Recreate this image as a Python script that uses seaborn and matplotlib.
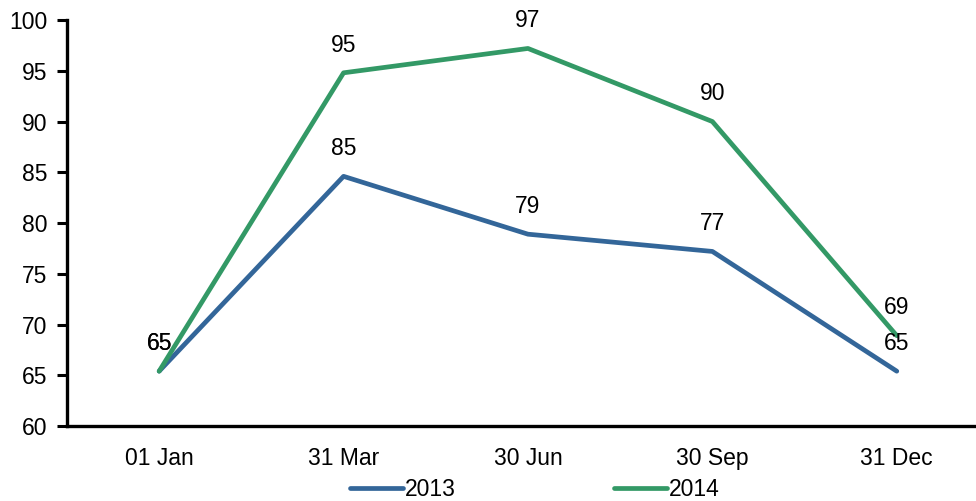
import matplotlib
matplotlib.use("Agg")
import matplotlib.pyplot as plt
import seaborn as sns
import pandas as pd

# Quarter-end dates and index values per year
categories = ["01 Jan", "31 Mar", "30 Jun", "30 Sep", "31 Dec"]
values_2013 = [65.4, 84.6, 78.9, 77.2, 65.4]
values_2014 = [65.4, 94.8, 97.2, 90.0, 68.9]
series_names = ["2013", "2014"]
y_ticks = [60, 65, 70, 75, 80, 85, 90, 95, 100]

colors = {"2013": "#336699", "2014": "#339966"}
FS = 16.5

sns.set_theme(style="white")
plt.rcParams["font.family"] = ["Liberation Sans", "DejaVu Sans"]
plt.rcParams["text.color"] = "black"
plt.rcParams["xtick.color"] = "black"
plt.rcParams["ytick.color"] = "black"

df = pd.DataFrame({
    "date": categories * 2,
    "pos": list(range(len(categories))) * 2,
    "value": values_2013 + values_2014,
    "year": [series_names[0]] * len(categories) + [series_names[1]] * len(categories),
})

fig = plt.figure(figsize=(9.76, 5.01), dpi=100)
ax = fig.add_axes([0.0686, 0.1497, 0.9447, 0.8103])

sns.lineplot(data=df, x="pos", y="value", hue="year", palette=colors,
             linewidth=3.4, ax=ax, legend=True, sort=False)

# value labels above each point
for name, vals in zip(series_names, [values_2013, values_2014]):
    for i, v in enumerate(vals):
        ax.annotate(f"{v:.0f}", (i, v), xytext=(0, 20), textcoords="offset points",
                    ha="center", va="center", fontsize=FS, color="black")

ax.set_xlim(-0.5, len(categories) - 0.5)
ax.set_ylim(60, 100)
ax.set_yticks(y_ticks)
ax.set_yticklabels([str(t) for t in y_ticks], fontsize=FS)

# category labels centred, tick marks between categories
ax.set_xticks(range(len(categories)))
ax.set_xticklabels(categories, fontsize=FS)
ax.tick_params(axis="x", which="major", length=0, pad=15)
ax.set_xticks([i + 0.5 for i in range(len(categories) - 1)], minor=True)
ax.tick_params(axis="x", which="minor", direction="in", length=7, width=2.2, color="black")
ax.tick_params(axis="y", direction="out", length=7, width=2.2, color="black", pad=7, left=True)

ax.set_xlabel("")
ax.set_ylabel("")
for side in ["top", "right"]:
    ax.spines[side].set_visible(False)
for side in ["left", "bottom"]:
    ax.spines[side].set_color("black")
    ax.spines[side].set_linewidth(2.4)

handles, labels = ax.get_legend_handles_labels()
ax.legend_.remove()
fig.legend(handles, labels, loc="center", bbox_to_anchor=(0.548, 0.022), ncol=2,
           frameon=False, fontsize=FS, handlelength=2.3, handletextpad=0.1,
           columnspacing=6.9, borderaxespad=0)

fig.savefig("out.png", dpi=100)
